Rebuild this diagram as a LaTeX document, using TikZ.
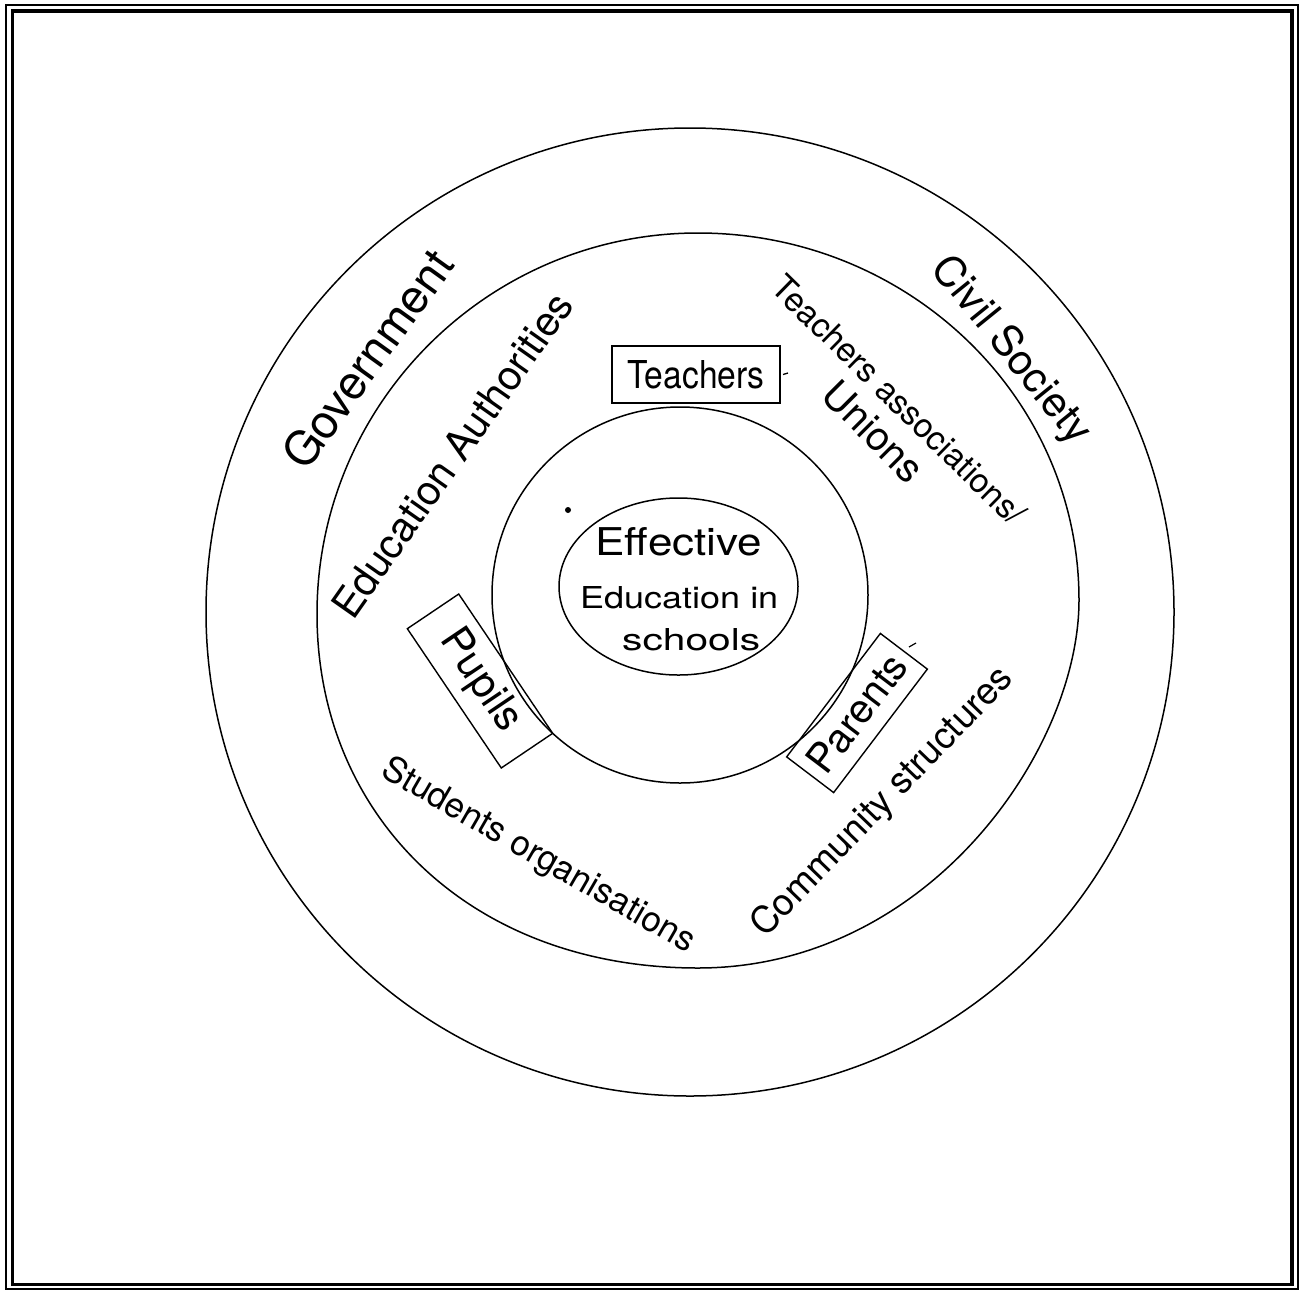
\documentclass[tikz,border=0pt]{standalone}
\usepackage{fontspec}
\setmainfont{TeX Gyre Heros}
\usepackage{graphicx}
\newcommand\szz[1]{\fontsize{#1pt}{#1pt}\selectfont}
\begin{document}
\begin{tikzpicture}[x=1pt,y=-1pt,
  ring/.style={line width=1.5pt},
  lbl/.style={inner sep=0pt, text depth=0pt},
  tag/.style={draw, line width=1.4pt, inner sep=0pt},
]
\useasboundingbox (0,0) rectangle (1306,1291);
\fill[white] (0,0) rectangle (1306,1291);
% double frame
\draw[line width=2pt] (5.5,5) rectangle (1297.5,1288.5);
\draw[line width=3.2pt] (12.5,11) rectangle (1292,1284.5);

% rings
\draw[ring] (690,612) circle[radius=484pt];
\draw[ring] (698,233) .. controls (908,233) and (1079,397) .. (1079,600)
  .. controls (1079,750) and (928,968) .. (698,968)
  .. controls (468,968) and (317,814) .. (317,614)
  .. controls (317,404) and (488,233) .. (698,233) -- cycle;
\draw[ring] (680,595) circle[radius=188pt];
\draw[ring] (678.5,586.5) ellipse[x radius=119.5pt, y radius=88.5pt];

% ring labels
\node[lbl, rotate=54.3, font=\szz{46.8}] (gov) at (367,359) {Government};
\node[lbl, rotate=54.9, font=\szz{41}] (edu) at (452,455) {Education Authorities};
\node[lbl, rotate=-51, font=\szz{42}] (civ) at (1014,348) {Civil Society};
\node[lbl, rotate=-44.4, font=\szz{33.5}] (tas) at (899,400) {Teachers associations/};
\node[lbl, rotate=-45, font=\szz{40}] (uni) at (874,431) {Unions};
\node[lbl, rotate=-30, font=\szz{35}] (stu) at (540,853) {Students organisations};
\node[lbl, rotate=46, font=\szz{37}] (com) at (880,800) {Community structures};

% boxed actors
\node[tag, minimum width=168pt, minimum height=57pt] (teach) at (696,374.5) {\resizebox{137pt}{28pt}{Teachers}};
\node[tag, rotate=-56, minimum width=168pt, minimum height=62pt, font=\szz{41.8}] (pup) at (480,681) {Pupils};
\node[tag, rotate=52.8, minimum width=155pt, minimum height=59pt, font=\szz{40.4}] (par) at (857,713) {Parents};

% centre
\node[lbl, anchor=base west] (eff) at (595,555) {\resizebox{167pt}{28pt}{Effective}};
\node[lbl, anchor=base west] (eduin) at (580,608) {\resizebox{198pt}{22pt}{Education in}};
\node[lbl, anchor=base west] (sch) at (622,650) {\resizebox{138pt}{22pt}{schools}};

% small marks
\fill (568,510) circle[radius=3pt];
\draw[line width=1.3pt] (783,374.5) -- (788,373);
\draw[line width=1.2pt] (909,647) -- (916,643);
\end{tikzpicture}
\end{document}
